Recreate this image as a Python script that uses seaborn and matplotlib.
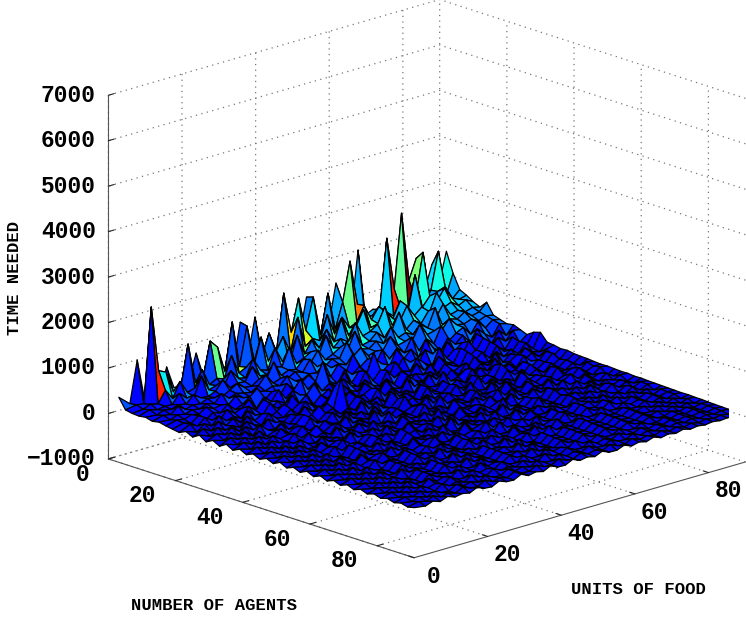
import numpy as np
import matplotlib
matplotlib.use("Agg")
import matplotlib.pyplot as plt
import seaborn as sns
from matplotlib.colors import Normalize

sns.set_style("white")
plt.rcParams['font.family'] = ['Liberation Mono', 'DejaVu Sans']
plt.rcParams['text.color'] = 'black'

agents = list(range(2, 91, 2))
food = [1] + list(range(4, 91, 2))
t02 = [380,170,1080,180,220,160,743,240,260,300,860,310,290,350,380,340,1260,420,1280,390,450,430,500,470,520,1390,560,540,610,1510,580,640,2095,620,700,660,740,690,760,720,800,760,1295,830,1510]
t04 = [150,190,170,2250,800,725,240,280,1200,300,330,1125,945,360,1405,380,1222,410,440,927,470,1712,800,1508,750,1437,560,1431,590,1138,1993,1000,680,650,720,2263,1100,2720,1200,1637,560,840,1650,600,1072]
t06 = [120,140,210,170,420,190,520,230,280,640,260,350,300,760,330,410,380,980,400,560,850,450,1180,490,620,530,1050,580,900,620,700,1020,660,900,740,600,700,680,860,1815,620,860,920,610,760]
t08 = [110,180,130,160,150,350,200,180,590,240,290,220,520,310,270,640,350,300,740,390,330,880,420,680,460,820,500,960,540,700,1020,580,620,830,640,980,670,1460,700,900,740,980,720,640,685]
t10 = [130,110,170,140,200,160,320,210,190,260,460,240,300,280,560,320,290,420,370,760,350,430,520,410,780,460,620,500,880,540,590,700,1040,580,620,920,660,800,610,1020,650,720,600,680,590]
t12 = [90,150,120,260,140,190,170,240,210,190,280,380,250,230,340,300,620,280,350,320,490,370,600,340,420,520,390,780,430,470,620,450,560,920,500,650,530,760,560,820,540,590,510,560,520]
t14 = [120,100,160,130,180,150,220,170,350,200,260,220,190,290,480,250,310,270,360,300,540,330,290,410,370,680,350,440,400,520,420,740,460,520,430,610,480,880,450,540,490,600,470,510,675]
t16 = [85,140,110,170,130,240,160,190,150,300,210,180,250,220,280,240,410,260,230,320,290,460,310,350,280,430,560,340,390,360,620,380,420,400,700,430,470,440,640,460,430,490,410,470,440]
t18 = [60,125,70,190,50,170,110,260,90,160,280,420,120,250,90,340,160,270,380,140,340,210,430,180,560,240,360,170,470,220,420,260,560,210,430,280,620,240,370,450,250,480,300,430,390]
t20 = [35,150,60,200,90,50,230,110,170,310,70,280,130,340,100,230,440,160,290,680,190,90,370,210,340,140,430,260,120,480,230,390,160,520,280,150,410,220,370,170,420,260,140,390,345]
t22 = [105,20,160,60,240,80,130,40,260,120,310,70,190,90,330,180,60,360,130,250,90,400,120,330,190,640,150,280,90,350,200,110,380,240,90,410,170,300,120,400,210,90,340,180,370]
t24 = [30,140,45,210,70,180,40,260,110,60,290,120,50,320,90,240,430,110,220,70,350,160,80,380,120,310,60,400,150,90,340,180,70,430,150,290,90,380,130,360,80,280,150,340,310]
t26 = [120,25,170,60,120,30,230,85,190,40,150,260,60,180,320,70,230,110,40,300,150,70,280,120,50,350,140,240,80,310,120,60,330,160,90,370,110,240,70,320,150,60,290,120,250]
t28 = [20,130,55,170,40,210,90,30,250,100,60,200,40,280,130,50,170,350,90,230,50,300,130,70,260,90,330,60,190,110,300,50,220,130,60,340,100,240,60,290,110,50,240,100,350]
t30 = [100,25,150,40,190,70,20,220,95,40,180,60,260,110,40,190,500,80,300,50,150,240,60,320,100,50,290,130,60,230,90,310,70,150,40,280,110,60,250,90,210,60,260,80,395]
t32 = [20,135,50,180,30,230,80,40,170,60,210,30,130,270,50,120,750,60,240,90,40,280,70,190,40,310,90,50,260,110,40,230,70,290,50,170,90,310,60,200,50,240,110,60,225]
t34 = [110,30,140,50,190,25,90,210,40,120,270,60,30,160,220,50,130,40,250,80,190,30,300,60,150,40,260,90,50,330,70,120,240,40,180,60,290,50,130,230,70,180,50,170,210]
t36 = [25,130,40,170,60,25,200,50,140,35,250,80,45,230,60,160,30,280,70,120,40,310,60,180,35,270,90,40,220,60,150,30,300,70,50,240,60,170,40,260,90,40,210,70,180]
t38 = [100,25,150,30,180,70,110,30,210,60,25,190,80,40,240,50,150,30,280,90,40,200,60,130,30,270,70,40,190,60,30,250,70,160,40,310,60,90,220,40,170,60,220,40,190]
t40 = [25,120,40,160,70,20,190,40,90,220,30,130,60,240,40,100,30,260,60,150,40,300,50,30,200,70,130,30,230,60,40,270,50,170,30,230,70,40,210,60,170,30,140,60,165]
t42 = [90,20,130,35,170,60,25,200,50,110,30,230,70,30,160,40,260,90,30,180,50,120,30,250,60,30,190,80,40,290,60,30,210,50,130,30,240,60,150,30,190,50,170,40,155]
t44 = [20,110,40,150,30,190,60,20,130,40,230,70,30,180,50,90,25,250,60,130,35,200,70,30,270,50,110,30,210,60,30,240,50,160,30,280,60,120,35,210,60,40,150,50,150]
t46 = [85,25,130,30,160,40,20,210,60,110,30,190,70,30,240,50,140,25,210,60,30,270,50,150,30,190,60,35,230,50,120,30,260,60,30,190,50,140,30,240,60,130,35,170,135]
t48 = [20,120,35,150,50,20,180,45,120,30,220,60,30,170,50,130,25,240,70,30,190,60,120,30,280,50,30,190,70,30,230,50,130,30,210,60,30,180,50,110,30,190,60,130,125]
t50 = [95,20,130,30,170,50,120,25,200,60,25,160,60,30,230,50,30,180,60,120,30,270,50,30,170,60,120,30,220,50,30,250,60,30,160,45,210,30,90,190,40,120,30,160,130]
t52 = [20,115,35,160,40,20,190,50,30,130,60,210,30,150,50,25,240,60,110,30,200,50,30,260,60,30,170,50,120,30,230,50,30,190,60,130,30,200,50,30,170,60,110,30,120]
t54 = [80,25,130,30,170,50,20,220,60,120,30,190,50,30,250,60,130,30,180,50,30,240,60,120,30,200,50,30,270,50,30,160,60,30,210,50,120,30,180,60,120,30,170,50,110]
t56 = [20,110,40,150,30,120,25,200,50,30,180,60,120,30,220,50,25,170,60,30,260,50,120,30,190,60,30,230,50,110,30,170,50,30,220,50,30,140,50,170,30,120,60,130,115]
t58 = [90,20,130,30,180,50,20,190,60,110,30,210,50,30,170,60,120,30,250,50,30,190,60,110,30,220,50,30,180,60,30,240,50,30,150,60,120,30,190,50,130,40,110,40,100]
t60 = [20,110,30,160,40,20,200,50,110,30,180,60,25,230,50,120,30,190,60,30,240,50,100,30,170,60,30,210,50,30,160,60,120,30,200,50,30,150,60,30,170,40,120,40,105]
t62 = [85,20,120,30,170,50,110,20,190,50,30,170,60,120,30,220,50,30,180,60,110,30,230,50,30,180,60,30,200,50,30,150,60,30,190,50,110,30,160,50,30,130,40,120,95]
t64 = [20,100,35,150,30,20,180,50,100,30,200,50,30,160,60,110,30,210,50,30,170,60,30,220,50,30,150,60,110,30,180,50,30,170,50,110,30,160,40,120,40,150,30,110,90]
t66 = [80,20,115,30,160,50,20,170,60,30,190,50,110,30,210,50,30,180,50,110,30,200,50,30,160,60,30,210,50,30,150,60,30,180,50,30,140,60,110,30,140,50,100,35,85]
t68 = [20,105,30,150,40,110,20,170,50,30,180,50,30,200,60,110,30,190,50,30,160,60,30,210,50,30,170,50,110,30,190,50,30,160,50,30,150,50,25,130,40,110,30,100,80]
t70 = [80,20,110,30,150,40,20,170,50,110,30,190,50,30,170,60,110,30,200,50,30,160,50,100,30,180,50,30,190,50,30,150,50,30,170,50,30,130,50,100,30,120,40,90,75]
t72 = [20,95,30,140,35,20,170,50,100,30,180,50,30,190,50,100,30,170,50,30,190,50,30,170,50,30,190,50,100,30,160,50,30,140,50,30,120,50,30,130,40,100,30,90,70]
t74 = [75,20,110,30,140,40,20,160,50,30,170,50,100,30,180,50,30,160,50,100,30,170,50,30,180,50,30,150,50,30,170,50,30,140,50,30,130,40,100,30,110,30,90,35,75]
t76 = [20,90,30,130,35,100,20,160,50,30,170,50,30,180,50,100,30,160,50,30,180,50,100,30,170,50,30,160,50,30,150,50,30,140,40,30,120,40,30,110,40,90,30,85,65]
t78 = [70,20,100,30,130,40,20,150,50,90,30,160,50,30,170,50,30,150,50,100,30,170,50,30,160,50,30,150,50,30,140,40,30,130,40,30,110,40,90,30,100,30,80,30,65]
t80 = [20,85,30,120,30,20,150,40,90,30,160,50,30,170,50,90,30,150,50,30,160,50,90,30,150,50,30,140,40,30,130,40,30,120,40,30,100,30,30,90,35,80,30,70,55]
t82 = [65,20,95,30,120,40,90,20,140,40,30,150,50,90,30,150,50,30,150,40,30,140,50,90,30,150,40,30,130,40,30,120,40,30,110,40,30,90,30,80,30,85,25,70,50]
t84 = [20,75,30,110,30,20,130,40,90,25,140,40,30,140,50,90,30,130,40,30,140,40,30,130,40,30,130,40,90,30,120,40,30,100,30,80,30,90,30,70,30,70,25,60,45]
t86 = [60,20,85,25,110,30,20,120,40,80,25,130,40,30,130,40,90,30,130,40,30,130,40,90,30,120,40,30,110,40,30,110,30,80,30,90,30,70,25,75,25,60,25,55,40]
t88 = [20,70,25,100,30,70,20,110,35,25,120,40,80,30,120,40,30,120,40,30,120,40,30,110,40,80,30,110,30,30,100,30,70,30,85,25,70,25,60,25,60,25,50,25,35]
t90 = [55,20,80,25,90,30,60,25,100,35,20,100,40,30,110,35,70,30,110,35,30,110,40,70,30,100,35,30,95,30,70,30,85,25,60,25,70,25,50,25,50,25,40,25,30]

rows = [t02,t04,t06,t08,t10,t12,t14,t16,t18,t20,t22,t24,t26,t28,t30,t32,t34,t36,t38,t40,t42,t44,t46,t48,t50,t52,t54,t56,t58,t60,t62,t64,t66,t68,t70,t72,t74,t76,t78,t80,t82,t84,t86,t88,t90]
Z = np.array(rows, float)
A = np.array(agents, float); F = np.array(food, float)
AA, FF = np.meshgrid(A, F, indexing='ij')

fig = plt.figure(figsize=(7.46, 6.2), dpi=100)
ax = fig.add_axes([45.5/746, 23/620, 1, 1], projection='3d', proj_type='ortho')
ax.view_init(elev=17.8, azim=-43.4)
ax.set_box_aspect((445, 456, 382), zoom=1.163)
cmap = matplotlib.colormaps["jet"]
norm = Normalize(-200, 2600)
ax.plot_surface(AA, FF, Z, facecolors=cmap(norm(Z)), rstride=1, cstride=1, shade=False, edgecolor='k', linewidth=.9)
ax.set_xlim(0, 91); ax.set_ylim(0, 90); ax.set_zlim(-1000, 7000)
ax.set_xticks([0, 20, 40, 60, 80]); ax.set_yticks([0, 20, 40, 60, 80])
ax.set_zticks(range(-1000, 7001, 1000))
ax.zaxis.set_ticks_position('lower')
for a in (ax.xaxis, ax.yaxis, ax.zaxis):
    a.set_pane_color((1, 1, 1, 0))
    a.pane.set_edgecolor((1, 1, 1, 0))
    a.line.set_color('#555555')
    a._axinfo['grid'].update(color='#777777', linestyle=(0, (1, 3.5)), linewidth=.9)
    a._axinfo['tick'].update(inward_factor=0, outward_factor=.22)
ax.tick_params(axis='x', labelsize=16.5, pad=5.5, labelcolor='black')
ax.tick_params(axis='y', labelsize=16.5, pad=7, labelcolor='black')
ax.tick_params(axis='z', labelsize=16.5, pad=-3.4, labelcolor='black')
for l in ax.get_xticklabels():
    l.set_fontweight('bold')
    l.set_va('bottom')
    l.set_ha('right')
for l in ax.get_yticklabels():
    l.set_fontweight('bold')
    l.set_va('bottom')
for l in ax.get_zticklabels():
    l.set_fontweight('bold')
    l.set_va('center')
    l.set_ha('right')
fig.text(214/746, 1 - 606/620, 'NUMBER OF AGENTS', ha='center', va='center', fontsize=12.4, fontweight='bold')
fig.text(638/746, 1 - 589/620, 'UNITS OF FOOD', ha='center', va='center', fontsize=12.4, fontweight='bold')
fig.text(15/746, 1 - 278/620, 'TIME NEEDED', ha='center', va='center', rotation=90, fontsize=12.4, fontweight='bold')
fig.savefig('out.png', dpi=100)
